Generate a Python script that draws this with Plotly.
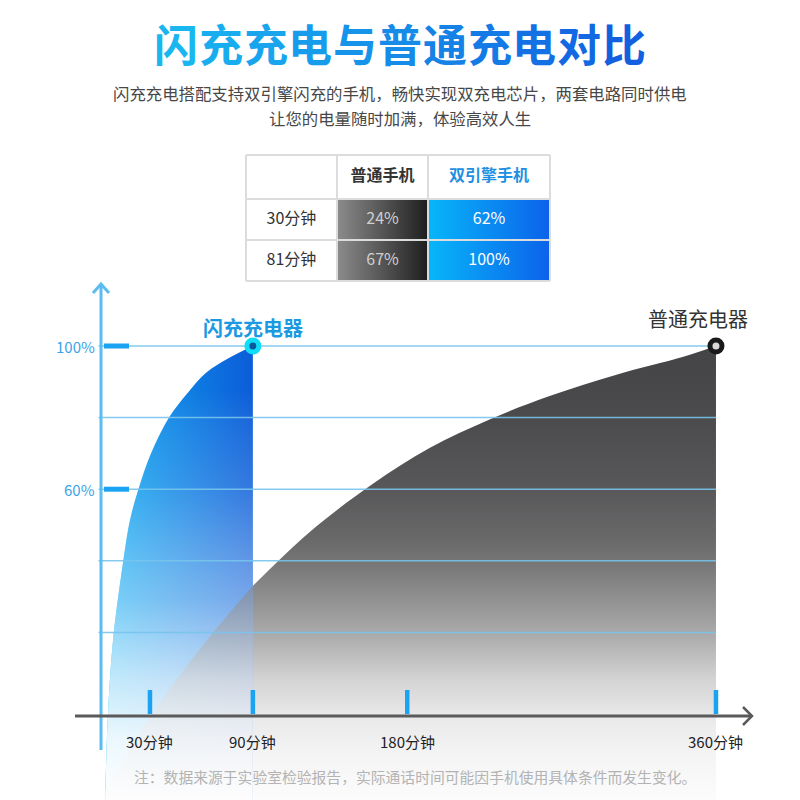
import plotly.graph_objects as go

# ---------------- data ----------------
title_text = "闪充充电与普通充电对比"
subtitle_lines = [
    "闪充充电搭配支持双引擎闪充的手机，畅快实现双充电芯片，两套电路同时供电",
    "让您的电量随时加满，体验高效人生",
]
footnote = "注：数据来源于实验室检验报告，实际通话时间可能因手机使用具体条件而发生变化。"

table_cols = ["普通手机", "双引擎手机"]
table_rows = ["30分钟", "81分钟"]
normal_phone = [24, 67]
dual_phone = [62, 100]

flash_min = [4, 5.5, 8.5, 14.3, 18.4, 23.6, 30.6, 41.1, 52.2, 62.7, 75.5, 90]
flash_pct = [-24, -3, 18, 39.5, 51.5, 60.5, 70, 80, 87, 92.5, 96.5, 100]
normal_min = [3, 31, 61, 90, 123, 160, 193, 228, 263, 302, 341, 360]
normal_pct = [-25, -3, 16.5, 33, 48, 61.5, 71.5, 79.5, 86, 92, 97, 100]

x_ticks = [30, 90, 180, 360]
x_tick_labels = ["30分钟", "90分钟", "180分钟", "360分钟"]
y_ticks = [100, 60]
y_tick_labels = ["100%", "60%"]
grid_pct = [100, 80, 60, 40, 20]
flash_label = "闪充充电器"
normal_label = "普通充电器"

# ---------------- layout helpers ----------------
W = H = 800
X0, SX = 98.5, 1.7152      # pixel of 0 min, px per minute
Y0, SY = 704.0, 3.58       # pixel of 0 %, px per %
XR = [-X0 / SX, (W - X0) / SX]
YR = [-(H - Y0) / SY, Y0 / SY]
BASE = YR[0]
FONT = "Noto Sans CJK SC, Noto Sans, sans-serif"


def pxx(p):
    return p / W


def pxy(p):
    return 1 - p / H


def vscale(stops, lo, hi):
    return [[(p - lo) / (hi - lo), c] for p, c in stops]


fig = go.Figure()


def area(xs, ys, grad):
    fig.add_trace(go.Scatter(x=[xs[0], xs[-1]], y=[BASE, BASE], mode="lines",
                             line=dict(width=0, color="rgba(0,0,0,0)"),
                             hoverinfo="skip", showlegend=False))
    fig.add_trace(go.Scatter(x=xs, y=ys, mode="lines", fill="tonexty",
                             line=dict(width=0, color="rgba(0,0,0,0)", shape="spline", smoothing=1.0),
                             fillgradient=grad, hoverinfo="skip", showlegend=False))


gray_stops = [
    (BASE, "rgb(252,252,253)"), (-15.6, "rgb(245,245,246)"), (-3.4, "rgb(233,233,234)"),
    (6.7, "rgb(212,212,213)"), (17.9, "rgb(175,175,176)"), (29, "rgb(145,145,146)"),
    (39.4, "rgb(118,118,119)"), (45.8, "rgb(105,105,106)"), (60, "rgb(88,88,90)"),
    (80, "rgb(75,75,77)"), (100, "rgb(68,68,70)"),
]
gray_stops_a = [(p, c.replace("rgb", "rgba").replace(")", ",0.6)")) for p, c in gray_stops]

split = normal_min.index(90)

# gray area right of flash region
area(normal_min[split:], normal_pct[split:],
     dict(type="vertical", colorscale=vscale(gray_stops, BASE, 100), start=BASE, stop=100))
# blue flash area (horizontal hue)
area(flash_min, flash_pct,
     dict(type="horizontal",
          colorscale=[[0, "rgb(10,172,242)"], [0.45, "rgb(14,135,230)"], [1, "rgb(12,92,216)"]],
          start=flash_min[0], stop=flash_min[-1]))
# white vertical fade over the blue area
white_stops = [(BASE, "rgba(255,255,255,1)"), (-10, "rgba(255,255,255,0.92)"),
               (7, "rgba(255,255,255,0.75)"), (29, "rgba(255,255,255,0.45)"),
               (60, "rgba(255,255,255,0.17)"), (80, "rgba(255,255,255,0.06)"),
               (88, "rgba(255,255,255,0.0)"), (100, "rgba(255,255,255,0)")]
area(flash_min, flash_pct,
     dict(type="vertical", colorscale=vscale(white_stops, BASE, 100), start=BASE, stop=100))
# gray part seen through the blue
area(normal_min[:split + 1], normal_pct[:split + 1],
     dict(type="vertical", colorscale=vscale(gray_stops_a, BASE, 100), start=BASE, stop=100))

# grid lines
for g in grid_pct:
    fig.add_trace(go.Scatter(x=[0, x_ticks[-1]], y=[g, g], mode="lines",
                             line=dict(color="rgba(120,196,236,0.9)", width=1.5),
                             hoverinfo="skip", showlegend=False))

# end markers
fig.add_trace(go.Scatter(x=[flash_min[-1]], y=[flash_pct[-1]], mode="markers",
                         marker=dict(size=12, color="#0a5a9c", line=dict(color="#10def8", width=5)),
                         hoverinfo="skip", showlegend=False))
fig.add_trace(go.Scatter(x=[normal_min[-1]], y=[normal_pct[-1]], mode="markers",
                         marker=dict(size=12, color="#d8d8d8", line=dict(color="#1a1a1a", width=5)),
                         hoverinfo="skip", showlegend=False))

shapes = []
# y axis with arrow
shapes.append(dict(type="line", xref="paper", yref="paper", x0=pxx(101), x1=pxx(101),
                   y0=pxy(750), y1=pxy(285), line=dict(color="#5bbcf0", width=3)))
shapes.append(dict(type="path", xref="paper", yref="paper",
                   path=f"M {pxx(93)} {pxy(293)} L {pxx(101)} {pxy(284)} L {pxx(109)} {pxy(293)}",
                   line=dict(color="#5bbcf0", width=3)))
# x axis with arrow
shapes.append(dict(type="line", xref="paper", yref="paper", x0=pxx(75), x1=pxx(751),
                   y0=pxy(716), y1=pxy(716), line=dict(color="#5a5a5a", width=3)))
shapes.append(dict(type="path", xref="paper", yref="paper",
                   path=f"M {pxx(743)} {pxy(707)} L {pxx(752)} {pxy(716)} L {pxx(743)} {pxy(725)}",
                   line=dict(color="#5a5a5a", width=2.5)))
# x tick bars
for t in x_ticks:
    shapes.append(dict(type="line", xref="x", yref="paper", x0=t, x1=t,
                       y0=pxy(714), y1=pxy(690), line=dict(color="#1aa3f2", width=4.5)))
# y tick bars
for t in y_ticks:
    shapes.append(dict(type="line", xref="paper", yref="y", x0=pxx(104), x1=pxx(129),
                       y0=t, y1=t, line=dict(color="#1aa3f2", width=5)))

annotations = []
# title, per-character gradient
c0, c1 = (25, 182, 240), (18, 96, 224)
n = len(title_text)
cw = 44.8
start_x = 400 - cw * n / 2
for i, ch in enumerate(title_text):
    f = i / (n - 1)
    col = tuple(round(a + (b - a) * f) for a, b in zip(c0, c1))
    annotations.append(dict(xref="paper", yref="paper", x=pxx(start_x + cw * (i + 0.5)), y=pxy(43),
                            text=f"<b>{ch}</b>", showarrow=False, xanchor="center", yanchor="middle",
                            font=dict(family=FONT, size=44, color=f"rgb{col}")))
for i, line in enumerate(subtitle_lines):
    annotations.append(dict(xref="paper", yref="paper", x=0.5, y=pxy(93 + 25 * i), text=line,
                            showarrow=False, xanchor="center", yanchor="middle",
                            font=dict(family=FONT, size=16.4, color="#474747")))
annotations.append(dict(xref="paper", yref="paper", x=pxx(415), y=pxy(776), text=footnote,
                        showarrow=False, xanchor="center", yanchor="middle",
                        font=dict(family=FONT, size=14.8, color="#b3b3b3")))
# x tick labels
for t, lab in zip(x_ticks, x_tick_labels):
    annotations.append(dict(xref="x", yref="paper", x=t, y=pxy(741), text=lab, showarrow=False,
                            xanchor="center", yanchor="middle",
                            font=dict(family=FONT, size=15, color="#222222")))
# y tick labels
for t, lab in zip(y_ticks, y_tick_labels):
    annotations.append(dict(xref="paper", yref="y", x=pxx(97), y=t, text=lab, showarrow=False,
                            xanchor="right", yanchor="middle",
                            font=dict(family=FONT, size=15, color="#3aa3e8")))
# charger labels
annotations.append(dict(xref="x", yref="y", x=flash_min[-1], y=flash_pct[-1], yshift=19,
                        text=f"<b>{flash_label}</b>", showarrow=False, xanchor="center",
                        yanchor="middle", font=dict(family=FONT, size=20, color="#1b9ae2")))
annotations.append(dict(xref="x", yref="y", x=normal_min[-1], y=normal_pct[-1], yshift=28,
                        xshift=-18, text=normal_label, showarrow=False, xanchor="center",
                        yanchor="middle", font=dict(family=FONT, size=20, color="#333333")))

# ---------------- comparison table (own axes) ----------------
col_edges = [0, 91, 182, 304]
row_edges = [0, 44, 85, 126]
cell_grads = [
    [[0, "rgb(140,140,140)"], [1, "rgb(30,30,30)"]],
    [[0, "rgb(8,182,250)"], [1, "rgb(12,98,234)"]],
]
values = [normal_phone, dual_phone]
text_colors = ["#cfcfcf", "#ffffff"]
for ci in range(2):
    xa, xb = col_edges[ci + 1], col_edges[ci + 2]
    for ri in range(2):
        ya, yb = row_edges[ri + 1], row_edges[ri + 2]
        fig.add_trace(go.Scatter(x=[xa, xb, xb, xa, xa], y=[ya, ya, yb, yb, ya], mode="lines",
                                 fill="toself", line=dict(width=0, color="rgba(0,0,0,0)"),
                                 fillgradient=dict(type="horizontal", colorscale=cell_grads[ci],
                                                   start=xa, stop=xb),
                                 xaxis="x2", yaxis="y2", hoverinfo="skip", showlegend=False))
    fig.add_trace(go.Scatter(x=[(xa + xb) / 2] * 2,
                             y=[(row_edges[r + 1] + row_edges[r + 2]) / 2 for r in range(2)],
                             mode="text", text=[f"{v}%" for v in values[ci]],
                             textfont=dict(family=FONT, size=16, color=text_colors[ci]),
                             xaxis="x2", yaxis="y2", hoverinfo="skip", showlegend=False))
# header texts
fig.add_trace(go.Scatter(x=[(col_edges[1] + col_edges[2]) / 2, (col_edges[2] + col_edges[3]) / 2],
                         y=[row_edges[1] / 2] * 2, mode="text",
                         text=[f"<b>{c}</b>" for c in table_cols],
                         textfont=dict(family=FONT, size=16, color=["#333333", "#1e8fe2"]),
                         xaxis="x2", yaxis="y2", hoverinfo="skip", showlegend=False))
fig.add_trace(go.Scatter(x=[col_edges[1] / 2] * 2,
                         y=[(row_edges[r + 1] + row_edges[r + 2]) / 2 for r in range(2)],
                         mode="text", text=table_rows,
                         textfont=dict(family=FONT, size=16, color="#333333"),
                         xaxis="x2", yaxis="y2", hoverinfo="skip", showlegend=False))
# table borders
for xe in col_edges:
    shapes.append(dict(type="line", xref="x2", yref="y2", x0=xe, x1=xe, y0=row_edges[0],
                       y1=row_edges[-1], line=dict(color="#dcdcdc", width=2)))
for ye in row_edges:
    shapes.append(dict(type="line", xref="x2", yref="y2", x0=col_edges[0], x1=col_edges[-1],
                       y0=ye, y1=ye, line=dict(color="#dcdcdc", width=2)))

hidden = dict(visible=False, showgrid=False, zeroline=False, fixedrange=True)
fig.update_layout(
    width=W, height=H, margin=dict(l=0, r=0, t=0, b=0),
    paper_bgcolor="white", plot_bgcolor="white", showlegend=False,
    xaxis=dict(range=XR, domain=[0, 1], **hidden),
    yaxis=dict(range=YR, domain=[0, 1], **hidden),
    xaxis2=dict(range=[col_edges[0] - 1, col_edges[-1] + 1], domain=[pxx(245), pxx(551)],
                anchor="y2", **hidden),
    yaxis2=dict(range=[row_edges[-1] + 1, row_edges[0] - 1], domain=[pxy(282), pxy(154)],
                anchor="x2", **hidden),
    shapes=shapes, annotations=annotations,
)
fig.write_html("out.html")
